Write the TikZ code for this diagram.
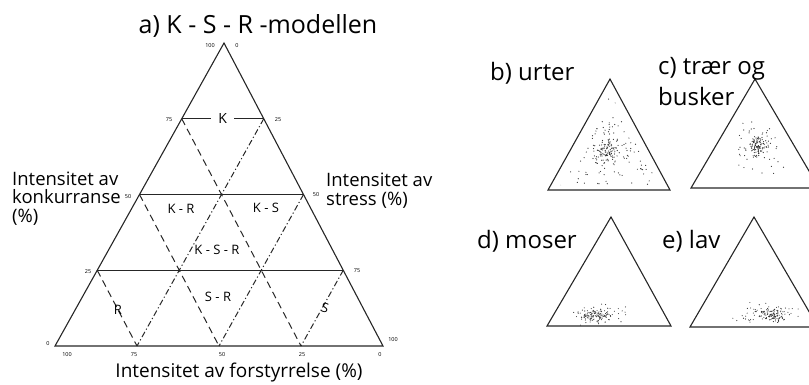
\documentclass[tikz,border=0pt]{standalone}
\usepackage{fontspec}
\setmainfont{Open Sans}
\usetikzlibrary{calc}

\begin{document}
\begin{tikzpicture}[
    x=1pt, y=-1pt,
    tri/.style={draw=black!85, line width=1.1pt, line join=miter},
    grid/.style={draw=black!85, line width=1pt},
    dline/.style={draw=black!85, line width=1pt, dash pattern=on 7pt off 4.5pt},
    ddline/.style={draw=black!85, line width=1pt, dash pattern=on 6pt off 2.5pt on 1.2pt off 2.5pt},
    tick/.style={font=\fontsize{5.5}{6}\selectfont, inner sep=0pt},
    region/.style={font=\fontsize{13}{14}\selectfont, inner sep=1pt},
    axislbl/.style={font=\fontsize{18.5}{18.5}\selectfont, align=left, inner sep=0pt},
    panellbl/.style={font=\fontsize{24}{31}\selectfont, align=left, inner sep=0pt},
    spot/.style={fill=black!80}
]
\clip (0,0) rectangle (809,384);

% a) main triangle
\coordinate (A) at (224,43);
\coordinate (B) at (55,346);
\coordinate (C) at (383,346);
\foreach \t/\n in {0.25/1,0.5/2,0.75/3} {
  \coordinate (L\n) at ($(A)!\t!(B)$);
  \coordinate (R\n) at ($(A)!\t!(C)$);
  \coordinate (D\n) at ($(B)!\t!(C)$);
}
\draw[tri] (A) -- (B) -- (C) -- cycle;
\draw[grid] (L1) -- (R1);
\draw[grid] (L2) -- (R2);
\draw[grid] (L3) -- (R3);
\draw[dline] (L1) -- (D3);
\draw[dline] (L2) -- (D2);
\draw[dline] (L3) -- (D1);
\draw[ddline] (R1) -- (D1);
\draw[ddline] (R2) -- (D2);
\draw[ddline] (R3) -- (D3);

\node[region, fill=white, inner xsep=7pt, font=\fontsize{14}{15}\selectfont] (k) at ($(L1)!0.5!(R1)$) {K};
\node[region] (kr) at (181,209) {K - R};
\node[region] (ks) at (266,208) {K - S};
\node[region] (ksr) at (217,250) {K - S - R};
\node[region] (sr) at (218,297) {S - R};
\node[region] (r) at (118,310) {R};
\node[region, rotate=-15] (s) at (325,308) {S};

% scale numbers
\node[tick] (t100a) at (210,46) {100};
\node[tick] (t0a) at (237,46) {0};
\node[tick] (t75l) at (169,120) {75};
\node[tick] (t25r) at (278,120) {25};
\node[tick] (t50l) at (128,197) {50};
\node[tick] (t50r) at (316,195) {50};
\node[tick] (t25l) at (88,272) {25};
\node[tick] (t75r) at (357,271) {75};
\node[tick] (t0l) at (48,344) {0};
\node[tick] (t100r) at (393,340) {100};
\node[tick] (b100) at (67,355) {100};
\node[tick] (b75) at (134,355) {75};
\node[tick] (b50) at (222,355) {50};
\node[tick] (b25) at (302,355) {25};
\node[tick] (b0) at (380,355) {0};

\node[panellbl, anchor=base, font=\fontsize{25}{31}\selectfont] (title) at (258,33) {a) K - S - R -modellen};
\node[axislbl, anchor=base west] (konk) at (12,222) {Intensitet av\\konkurranse\\(\%)};
\node[axislbl, anchor=base west] (stress) at (326,205) {Intensitet av\\stress (\%)};
\node[axislbl, anchor=base, font=\fontsize{19}{19}\selectfont] (forst) at (239,377) {Intensitet av forstyrrelse (\%)};

% b) - e) small triangles
\coordinate (bT) at (610,79);  \coordinate (bL) at (548,190); \coordinate (bR) at (670,190);
\coordinate (cT) at (755,79);  \coordinate (cL) at (691,188); \coordinate (cR) at (819,188);
\coordinate (dT) at (611,217); \coordinate (dL) at (547,326); \coordinate (dR) at (671,326);
\coordinate (eT) at (754,217); \coordinate (eL) at (690,327); \coordinate (eR) at (818,327);
\foreach \p in {b,c,d,e}
  \draw[tri] (\p T) -- (\p L) -- (\p R) -- cycle;

\node[panellbl, anchor=base west] (urter) at (490,80) {b) urter};
\node[panellbl, anchor=base west] (traer) at (658,105) {c) trær og\\busker};
\node[panellbl, anchor=base west] (moser) at (477,248) {d) moser};
\node[panellbl, anchor=base west] (lav) at (662,248) {e) lav};

% dot clouds
\pgfmathsetseed{1234}
\begin{scope}
  \clip ($(bT)+(0,14)$) -- ($(bL)+(10,-5)$) -- ($(bR)+(-10,-5)$) -- cycle;
  \foreach \i in {1,...,190}
    \fill[spot] ({609+61*rand}, {137+52*rand}) circle[radius=0.6pt];
  \foreach \i in {1,...,70}
    \fill[spot] ({608+10*(rand+rand+rand)}, {150+9*(rand+rand+rand)}) circle[radius=0.6pt];
  \foreach \i in {1,...,50}
    \fill[spot] ({608+4*(rand+rand+rand)}, {151+4*(rand+rand+rand)}) circle[radius=0.6pt];
\end{scope}
\begin{scope}
  \clip ($(cT)+(0,18)$) -- ($(cL)+(14,-6)$) -- ($(cR)+(-14,-6)$) -- cycle;
  \foreach \i in {1,...,60}
    \fill[spot] ({757+12*(rand+rand+rand)}, {148+12*(rand+rand+rand)}) circle[radius=0.6pt];
  \foreach \i in {1,...,90}
    \fill[spot] ({757+5*(rand+rand+rand)}, {146+6*(rand+rand+rand)}) circle[radius=0.6pt];
\end{scope}
\begin{scope}
  \clip (566,302) rectangle (640,325);
  \foreach \i in {1,...,80}
    \fill[spot] ({600+12*(rand+rand+rand)}, {314+4.5*(rand+rand+rand)}) circle[radius=0.55pt];
  \foreach \i in {1,...,70}
    \fill[spot] ({593+6*(rand+rand+rand)}, {316+3*(rand+rand+rand)}) circle[radius=0.55pt];
\end{scope}
\begin{scope}
  \clip (726,302) rectangle (809,325);
  \foreach \i in {1,...,80}
    \fill[spot] ({768+15*(rand+rand+rand)}, {314+4.5*(rand+rand+rand)}) circle[radius=0.55pt];
  \foreach \i in {1,...,70}
    \fill[spot] ({774+6*(rand+rand+rand)}, {315+3*(rand+rand+rand)}) circle[radius=0.55pt];
\end{scope}

\end{tikzpicture}
\end{document}
